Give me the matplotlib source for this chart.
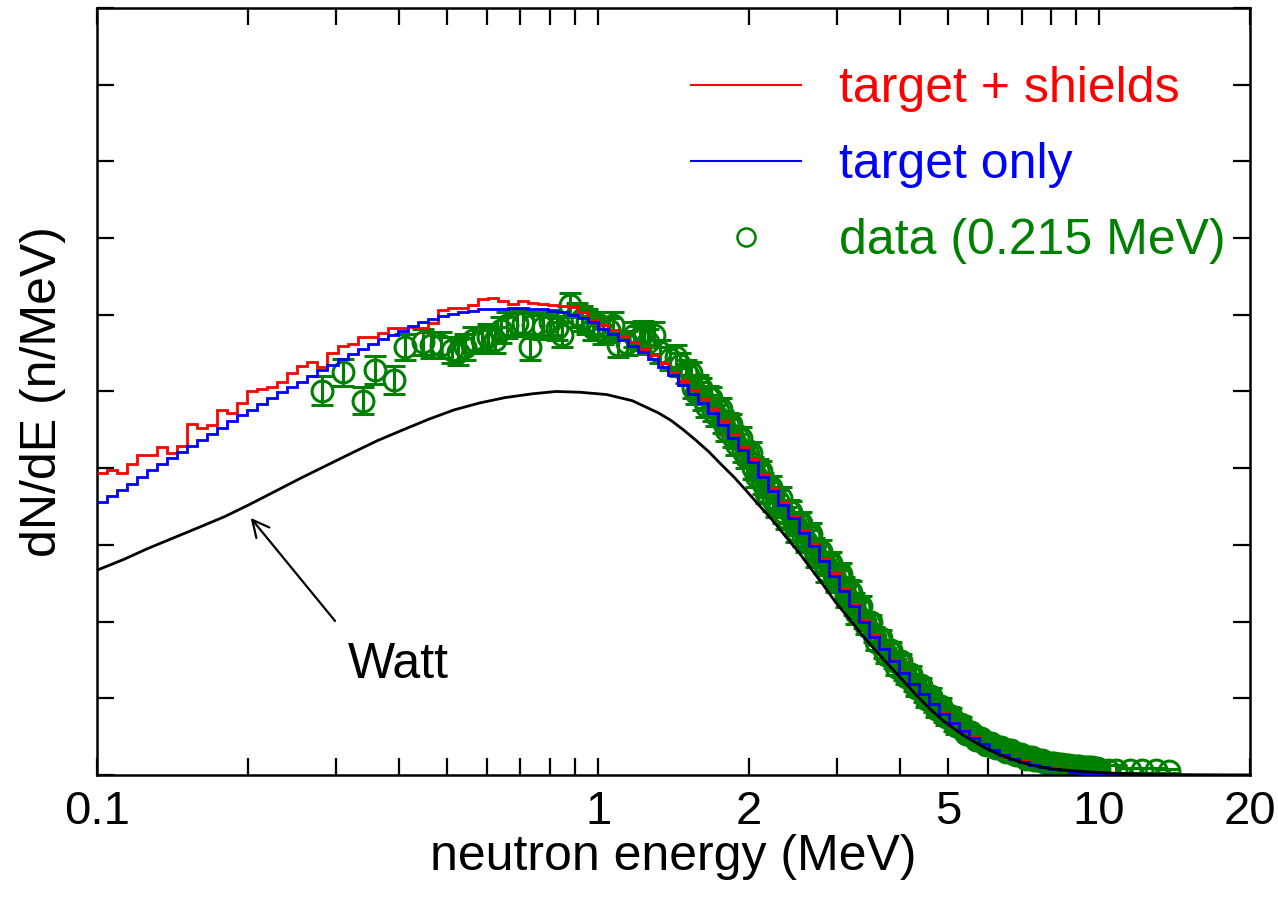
import numpy as np
import matplotlib
matplotlib.use("Agg")
import matplotlib.pyplot as plt
from matplotlib.lines import Line2D
from matplotlib.ticker import FixedLocator, NullFormatter, NullLocator

plt.rcParams['font.family'] = ['Liberation Sans', 'DejaVu Sans']

# histogram bins: 50 per decade, 0.1 .. 20 MeV
edges = np.logspace(-1, 1.3, 116)

target_only = [
    3.56, 3.64, 3.72, 3.80, 3.89, 3.97, 4.05, 4.13, 4.21, 4.29,
    4.37, 4.45, 4.53, 4.61, 4.69, 4.76, 4.84, 4.91, 4.99, 5.06,
    5.13, 5.20, 5.28, 5.35, 5.42, 5.49, 5.55, 5.62, 5.68, 5.74,
    5.79, 5.85, 5.90, 5.95, 5.98, 6.01, 6.03, 6.05, 6.07, 6.08,
    6.08, 6.09, 6.09, 6.08, 6.07, 6.05, 6.03, 6.00, 5.96, 5.90,
    5.82, 5.75, 5.67, 5.59, 5.51, 5.42, 5.32, 5.21, 5.09, 4.97,
    4.85, 4.72, 4.56, 4.40, 4.24, 4.08, 3.89, 3.70, 3.52, 3.35,
    3.16, 2.98, 2.79, 2.60, 2.40, 2.20, 2.00, 1.80, 1.64, 1.48,
    1.33, 1.18, 1.05, 0.92, 0.80, 0.68, 0.58, 0.48, 0.40, 0.32,
    0.26, 0.21, 0.17, 0.13, 0.10, 0.08, 0.06, 0.04, 0.03, 0.025,
    0.02, 0.02, 0.015, 0.015, 0.01, 0.01, 0.01, 0.005, 0.005, 0.005,
    0.0, 0.0, 0.0, 0.0, 0.0,
]

target_shields = [
    3.94, 3.98, 3.94, 4.05, 4.17, 4.17, 4.27, 4.20, 4.29, 4.58,
    4.53, 4.56, 4.76, 4.72, 4.85, 5.00, 5.03, 5.06, 5.13, 5.24,
    5.33, 5.39, 5.32, 5.50, 5.59, 5.62, 5.71, 5.71, 5.76, 5.83,
    5.83, 5.84, 5.83, 5.89, 6.06, 6.09, 6.09, 6.13, 6.21, 6.22,
    6.18, 6.14, 6.18, 6.15, 6.14, 6.13, 6.12, 6.10, 6.04, 5.93,
    5.87, 5.80, 5.72, 5.64, 5.56, 5.47, 5.37, 5.26, 5.14, 5.02,
    4.90, 4.77, 4.61, 4.45, 4.28, 4.12, 3.93, 3.74, 3.56, 3.38,
    3.19, 3.01, 2.82, 2.63, 2.43, 2.23, 2.02, 1.82, 1.66, 1.50,
    1.34, 1.19, 1.06, 0.93, 0.81, 0.69, 0.59, 0.49, 0.41, 0.33,
    0.27, 0.22, 0.18, 0.14, 0.11, 0.09, 0.07, 0.05, 0.04, 0.03,
    0.02, 0.02, 0.015, 0.015, 0.01, 0.01, 0.01, 0.005, 0.005, 0.005,
    0.0, 0.0, 0.0, 0.0, 0.0,
]

watt_e = [0.100, 0.113, 0.126, 0.142, 0.160, 0.180, 0.202, 0.227, 0.255,
          0.288, 0.323, 0.363, 0.408, 0.460, 0.516, 0.580, 0.652, 0.740,
          0.824, 0.920, 1.04, 1.17, 1.32, 1.40, 1.48, 1.57, 1.66, 1.76,
          1.87, 1.98, 2.10, 2.23, 2.36, 2.51, 2.66, 2.82, 2.98, 3.17,
          3.36, 3.55, 3.77, 4.05, 4.33, 4.60, 4.90, 5.35, 5.87, 6.30,
          6.80, 7.30, 8.00, 9.50, 11.0, 14.0, 20.0]
watt_y = [2.67, 2.81, 2.95, 3.09, 3.23, 3.37, 3.53, 3.70, 3.87,
          4.04, 4.20, 4.36, 4.50, 4.64, 4.76, 4.85, 4.92, 4.97,
          5.00, 4.99, 4.96, 4.88, 4.72, 4.62, 4.50, 4.36, 4.22, 4.05,
          3.88, 3.70, 3.51, 3.32, 3.12, 2.91, 2.69, 2.47, 2.25, 2.04,
          1.83, 1.65, 1.46, 1.24, 1.03, 0.86, 0.70, 0.52, 0.365, 0.27,
          0.19, 0.13, 0.08, 0.04, 0.02, 0.005, 0.0]

data_e = [
    0.281, 0.310, 0.340, 0.359, 0.392, 0.411, 0.448, 0.465, 0.485, 0.510,
    0.526, 0.543, 0.564, 0.586, 0.604, 0.623, 0.640, 0.657, 0.688, 0.708,
    0.732, 0.742, 0.777, 0.800, 0.827, 0.846, 0.879, 0.906, 0.930, 0.950,
    0.979, 1.000, 1.025, 1.050, 1.073, 1.098, 1.140, 1.180, 1.210, 1.230,
    1.260, 1.290, 1.330, 1.390, 1.430, 1.460, 1.500,
    1.514, 1.549, 1.585, 1.622, 1.660, 1.698, 1.738, 1.778, 1.820, 1.862,
    1.905, 1.950, 1.995, 2.042, 2.089, 2.138, 2.188, 2.239, 2.291, 2.344,
    2.399, 2.455, 2.512, 2.570, 2.630, 2.692, 2.754, 2.818, 2.884, 2.951,
    3.020, 3.090, 3.162, 3.236, 3.311, 3.388, 3.467, 3.548, 3.631, 3.715,
    3.802, 3.890, 3.981, 4.074, 4.169, 4.266, 4.365, 4.467, 4.571, 4.677,
    4.786, 4.898, 5.012, 5.129, 5.248, 5.370, 5.495, 5.623, 5.754, 5.888,
    6.026, 6.166, 6.310, 6.457, 6.607, 6.761, 6.918, 7.079, 7.244, 7.413,
    7.586, 7.762, 7.943, 8.128, 8.318, 8.511, 8.710, 8.913, 9.120, 9.333,
    9.550, 9.772, 10.00, 10.4, 10.8, 11.5, 12.2, 13.0, 13.8,
]
data_y = [
    5.01, 5.25, 4.88, 5.28, 5.15, 5.58, 5.65, 5.61, 5.61, 5.54,
    5.52, 5.58, 5.67, 5.67, 5.71, 5.67, 5.80, 5.87, 5.89, 5.89,
    5.58, 5.87, 5.84, 5.90, 5.83, 5.74, 6.13, 6.00, 5.95, 5.91,
    5.83, 5.88, 5.78, 5.80, 5.87, 5.61, 5.63, 5.74, 5.70, 5.76,
    5.65, 5.74, 5.52, 5.43, 5.45, 5.35, 5.26,
    5.22, 5.05, 5.08, 4.90, 4.93, 4.75, 4.76, 4.60, 4.58, 4.41,
    4.40, 4.22, 4.19, 4.00, 3.98, 3.80, 3.76, 3.58, 3.57, 3.43,
    3.44, 3.28, 3.27, 3.12, 3.11, 2.95, 2.92, 2.77, 2.75, 2.61,
    2.59, 2.44, 2.40, 2.23, 2.19, 2.02, 1.99, 1.83, 1.79, 1.63,
    1.62, 1.49, 1.47, 1.34, 1.32, 1.19, 1.17, 1.05, 1.03, 0.92,
    0.90, 0.79, 0.78, 0.68, 0.67, 0.58, 0.56, 0.50, 0.48, 0.42,
    0.42, 0.37, 0.37, 0.32, 0.32, 0.28, 0.27, 0.23, 0.23, 0.20,
    0.20, 0.17, 0.16, 0.15, 0.14, 0.13, 0.125, 0.12, 0.115, 0.11,
    0.10, 0.09, 0.08, 0.07, 0.07, 0.06, 0.06, 0.06, 0.05,
]
data_err = ([0.19, 0.18, 0.18, 0.18, 0.18, 0.17, 0.17, 0.17, 0.17, 0.17,
             0.17, 0.17, 0.17, 0.17, 0.17, 0.17, 0.17, 0.17, 0.17, 0.17,
             0.17, 0.17, 0.16, 0.16, 0.16, 0.16, 0.16, 0.16, 0.16, 0.16,
             0.16, 0.16, 0.16, 0.16, 0.16, 0.16, 0.16, 0.16, 0.16, 0.16,
             0.16, 0.16, 0.15, 0.15, 0.15, 0.15, 0.15]
            + [0.14] * 35 + [0.10] * 20 + [0.06] * 30 + [0.03] * 4)

# interleaved points of the dense part of the data set
data2_e = [
    1.531, 1.567, 1.603, 1.641, 1.679, 1.718, 1.758, 1.799, 1.841, 1.884,
    1.928, 1.972, 2.018, 2.065, 2.113, 2.163, 2.213, 2.265, 2.317, 2.371,
    2.427, 2.483, 2.541, 2.600, 2.661, 2.723, 2.786, 2.851, 2.917, 2.985,
    3.055, 3.126, 3.199, 3.273, 3.350, 3.428, 3.508, 3.589, 3.673, 3.758,
    3.846, 3.936, 4.027, 4.121, 4.217, 4.315, 4.416, 4.519, 4.624, 4.732,
    4.842, 4.955, 5.070, 5.188, 5.309, 5.433, 5.559, 5.689, 5.821, 5.957,
    6.095, 6.237, 6.383, 6.531, 6.683, 6.839, 6.998, 7.161, 7.328, 7.499,
    7.674, 7.852, 8.035, 8.222, 8.414, 8.610, 8.810, 9.016, 9.226, 9.441,
    9.661, 9.886,
]
data2_y = [
    5.24, 4.98, 5.04, 4.81, 4.92, 4.69, 4.77, 4.50, 4.57, 4.31,
    4.40, 4.14, 4.20, 3.90, 3.96, 3.68, 3.76, 3.51, 3.61, 3.35,
    3.43, 3.18, 3.29, 3.05, 3.14, 2.85, 2.92, 2.66, 2.77, 2.53,
    2.62, 2.33, 2.39, 2.11, 2.20, 1.94, 1.99, 1.73, 1.79, 1.56,
    1.63, 1.41, 1.48, 1.28, 1.32, 1.13, 1.17, 0.99, 1.03, 0.86,
    0.90, 0.75, 0.77, 0.64, 0.66, 0.54, 0.56, 0.46, 0.48, 0.39,
    0.42, 0.35, 0.37, 0.30, 0.32, 0.26, 0.27, 0.21, 0.23, 0.19,
    0.19, 0.16, 0.16, 0.14, 0.14, 0.13, 0.12, 0.12, 0.11, 0.10,
    0.10, 0.09,
]
data2_err = [0.14] * 35 + [0.10] * 20 + [0.06] * 27

xticks = [0.1, 1, 2, 5, 10, 20]
xticklabels = ['0.1', '1', '2', '5', '10', '20']

fig = plt.figure(figsize=(12.78, 9.06), dpi=100)
ax = fig.add_axes([0.0759, 0.1446, 0.9022, 0.8466])

green = '#008000'
for e, y, err in [(data_e, data_y, data_err), (data2_e, data2_y, data2_err)]:
    ax.errorbar(e, y, yerr=err, fmt='o', ms=15, mfc='none',
                mec=green, mew=2.2, ecolor=green, elinewidth=2.2,
                capsize=8, capthick=2.2, zorder=2)
ax.stairs(target_shields, edges, color='red', lw=2, baseline=None, zorder=3)
ax.stairs(target_only, edges, color='blue', lw=2, baseline=None, zorder=4)
ax.plot(watt_e, watt_y, color='black', lw=2, zorder=5)

ax.annotate('', xy=(0.201, 3.38), xytext=(0.301, 1.98),
            arrowprops=dict(arrowstyle='->', color='black', lw=1.6,
                            mutation_scale=30))
ax.text(0.40, 1.44, 'Watt', fontsize=36, ha='center', va='center')

ax.set_xscale('log')
ax.set_xlim(0.1, 20)
ax.set_ylim(0, 10)
ax.xaxis.set_major_locator(FixedLocator(xticks))
ax.set_xticklabels(xticklabels)
ax.xaxis.set_minor_locator(FixedLocator(
    [0.2, 0.3, 0.4, 0.5, 0.6, 0.7, 0.8, 0.9, 3, 4, 6, 7, 8, 9]))
ax.xaxis.set_minor_formatter(NullFormatter())
ax.yaxis.set_major_locator(FixedLocator(range(0, 11)))
ax.yaxis.set_minor_locator(NullLocator())
ax.set_yticklabels([])
ax.tick_params(which='both', direction='in', top=True, right=True,
               length=12, width=1.6, labelsize=34, pad=11)
for s in ax.spines.values():
    s.set_linewidth(1.8)

ax.set_xlabel('neutron energy (MeV)', fontsize=36, labelpad=0)
ax.set_ylabel('dN/dE (n/MeV)', fontsize=36, labelpad=11)

handles = [Line2D([], [], color='red', lw=1.5),
           Line2D([], [], color='blue', lw=1.5),
           Line2D([], [], ls='none', marker='o', ms=13, mfc='none',
                  mec=green, mew=1.8)]
ax.legend(handles, ['target + shields', 'target only', 'data (0.215 MeV)'],
          loc='upper right', bbox_to_anchor=(0.996, 0.950), frameon=False,
          fontsize=36, labelcolor=['red', 'blue', green],
          handlelength=2.2, handletextpad=0.76, labelspacing=0.6,
          borderaxespad=0)

fig.savefig('out.png', dpi=100)
